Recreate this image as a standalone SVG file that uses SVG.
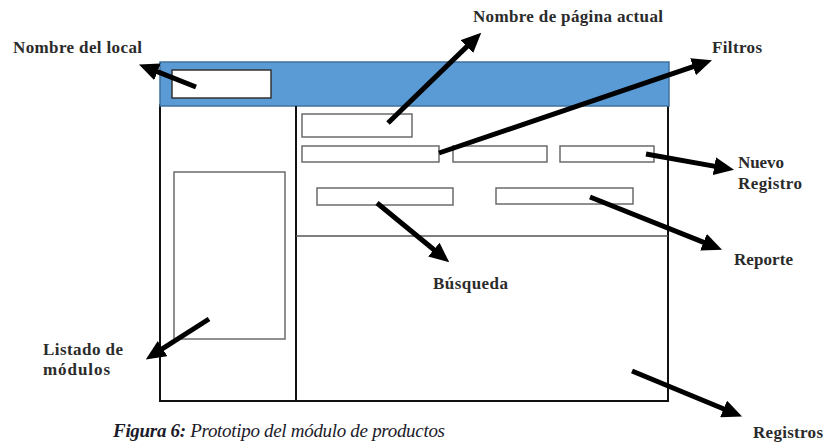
<svg xmlns="http://www.w3.org/2000/svg" width="825" height="443" viewBox="0 0 825 443">
<style>
.lbl{font-family:"Liberation Serif","Times New Roman",serif;font-weight:bold;font-size:17px;fill:#2b2b2b}
.box{fill:#fff;stroke:#6b6b6b;stroke-width:1.5}
.frame{fill:none;stroke:#111;stroke-width:2}
.arr{stroke:#000;stroke-width:5;fill:none;marker-end:url(#ah)}
.cap{font-family:"Liberation Serif","Times New Roman",serif;font-style:italic;font-size:19px;fill:#1b1b2a}
</style>
<defs>
<marker id="ah" markerUnits="userSpaceOnUse" markerWidth="20" markerHeight="18" viewBox="0 0 20 18" refX="1" refY="9" orient="auto">
<path d="M0,0 L20,9 L0,18 z" fill="#000"/>
</marker>
</defs>
<rect width="825" height="443" fill="#fff"/>
<g id="window">
<rect x="160" y="105" width="508" height="296" class="frame"/>
<rect x="160" y="62" width="509" height="44" fill="#5b9bd5" stroke="#41719c" stroke-width="1.5"/>
<line x1="296" y1="106" x2="296" y2="401" stroke="#111" stroke-width="2"/>
<line x1="296" y1="236" x2="668" y2="236" stroke="#555" stroke-width="1.5"/>
</g>
<g id="local-box"><rect x="172" y="70" width="99" height="28" fill="#fff" stroke="#333" stroke-width="1.5"/></g>
<g id="module-list"><rect x="174" y="172" width="111" height="167" class="box"/></g>
<g id="page-name"><rect x="302" y="114" width="110" height="23" class="box"/></g>
<g id="filters">
<rect x="302" y="146" width="137" height="16" class="box"/>
<rect x="453" y="146" width="94" height="16" class="box"/>
</g>
<g id="new-record"><rect x="560" y="146" width="94" height="16" class="box"/></g>
<g id="search"><rect x="317" y="188" width="136" height="17" class="box"/></g>
<g id="report"><rect x="496" y="188" width="137" height="16" class="box"/></g>
<g id="connectors">
<line x1="196" y1="87" x2="156.6" y2="71.4" class="arr"/>
<line x1="388" y1="123" x2="467.6" y2="45.9" class="arr"/>
<line x1="439" y1="153" x2="694" y2="66.4" class="arr"/>
<line x1="646" y1="154" x2="715.3" y2="166.4" class="arr"/>
<line x1="590" y1="197" x2="704.4" y2="242.6" class="arr"/>
<line x1="377" y1="203" x2="434.6" y2="250.3" class="arr"/>
<line x1="209" y1="319" x2="161.8" y2="349.2" class="arr"/>
<line x1="632" y1="371" x2="724.5" y2="409.3" class="arr"/>
</g>
<g id="labels">
<text x="13" y="53" class="lbl" textLength="129">Nombre del local</text>
<text x="473" y="22" class="lbl" textLength="190">Nombre de página actual</text>
<text x="712" y="53" class="lbl" textLength="50">Filtros</text>
<text x="738" y="168" class="lbl" textLength="46">Nuevo</text>
<text x="738" y="189" class="lbl" textLength="64">Registro</text>
<text x="734" y="265" class="lbl" textLength="59">Reporte</text>
<text x="433" y="289" class="lbl" textLength="75">Búsqueda</text>
<text x="43" y="355" class="lbl" textLength="80">Listado de</text>
<text x="43" y="375" class="lbl" textLength="67">módulos</text>
<text x="753" y="438" class="lbl" textLength="70">Registros</text>
</g>
<text x="113" y="437" class="cap" textLength="332"><tspan font-weight="bold">Figura 6:</tspan> Prototipo del módulo de productos</text>
</svg>
